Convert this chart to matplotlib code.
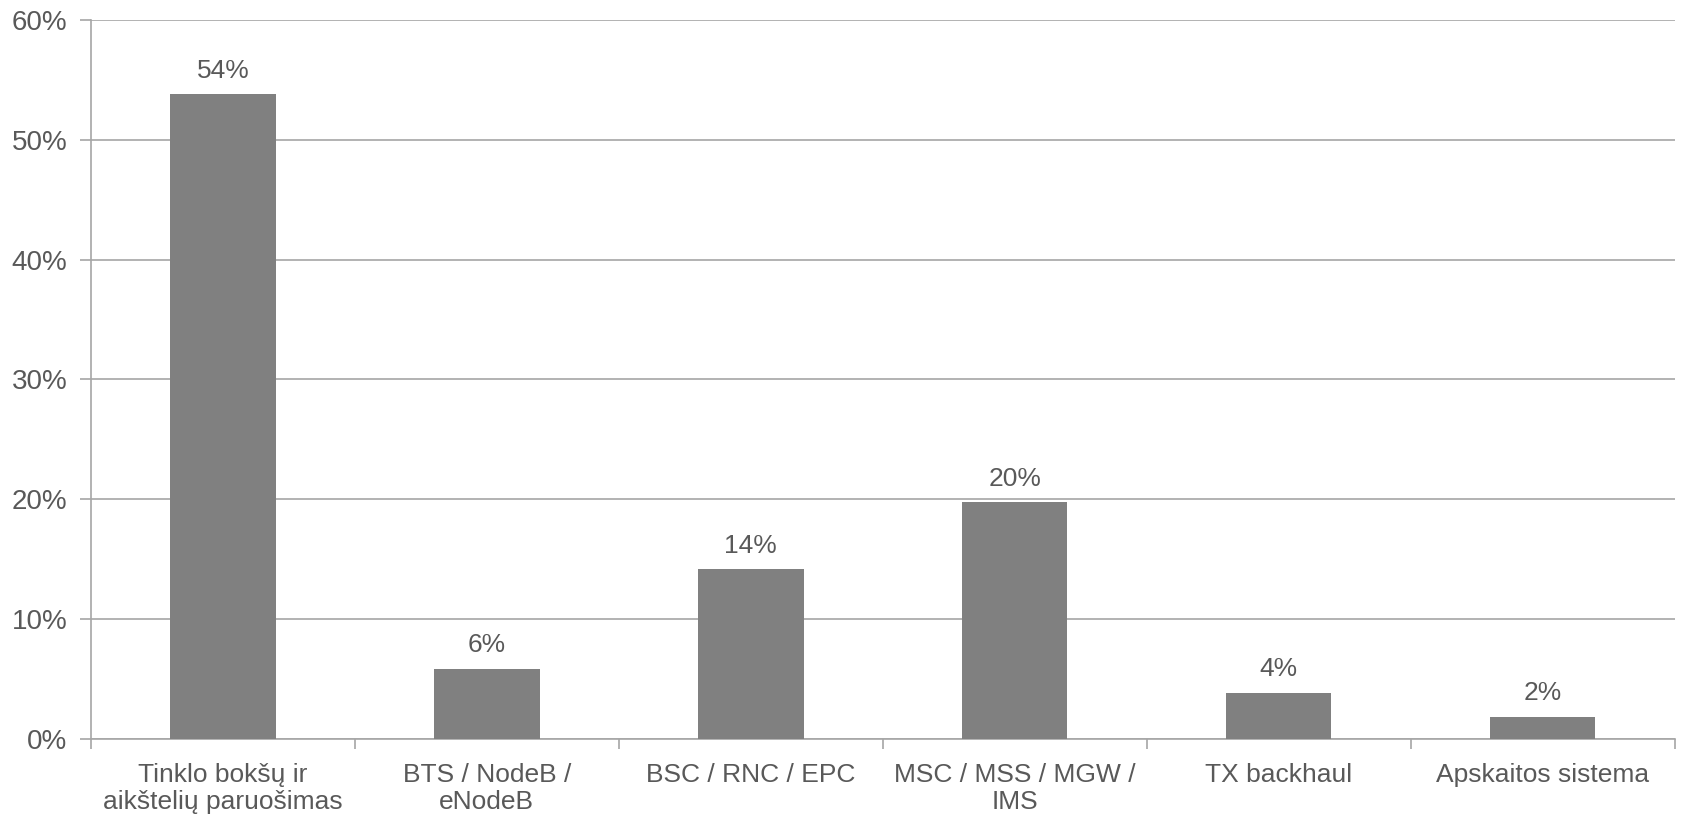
import matplotlib
matplotlib.use("Agg")
import matplotlib.pyplot as plt
from matplotlib.ticker import FuncFormatter, FixedLocator, NullFormatter

categories = ["Tinklo bokšų ir\naikštelių paruošimas", "BTS / NodeB /\neNodeB",
              "BSC / RNC / EPC", "MSC / MSS / MGW /\nIMS", "TX backhaul", "Apskaitos sistema"]
values = [53.8, 5.9, 14.2, 19.8, 3.9, 1.9]
labels = ["54%", "6%", "14%", "20%", "4%", "2%"]
yticks = [0, 10, 20, 30, 40, 50, 60]

plt.rcParams['font.family'] = ['Liberation Sans', 'DejaVu Sans']
TXT = "#595959"
GRID = "#a6a6a6"
FS = 19

fig = plt.figure(figsize=(16.83, 8.17), dpi=100)
ax = fig.add_axes([0.054, 0.095, 0.941, 0.881])

x = list(range(len(categories)))
bars = ax.bar(x, values, width=0.4, color="#808080", zorder=3)
for xi, v, lab in zip(x, values, labels):
    ax.annotate(lab, (xi, v), xytext=(0, 8), textcoords="offset points",
                ha="center", va="bottom", fontsize=FS, color=TXT)

ax.set_xlim(-0.5, len(categories) - 0.5)
ax.set_ylim(0, 60)
ax.set_yticks(yticks)
ax.yaxis.set_major_formatter(FuncFormatter(lambda v, p: f"{int(v)}%"))
ax.yaxis.grid(True, color=GRID, linewidth=1.2, zorder=0)
ax.set_axisbelow(True)

ax.set_xticks(x)
ax.set_xticklabels(categories, fontsize=FS, color=TXT, linespacing=1.15)
ax.tick_params(axis='x', which='major', length=0, pad=17)
ax.xaxis.set_minor_locator(FixedLocator([i - 0.5 for i in range(len(categories) + 1)]))
ax.xaxis.set_minor_formatter(NullFormatter())
ax.tick_params(axis='x', which='minor', length=7, color=GRID, width=1.2)
ax.tick_params(axis='y', length=8, color=GRID, width=1.2, labelsize=20, labelcolor=TXT, pad=9)

for s in ['top', 'right']:
    ax.spines[s].set_visible(False)
for s in ['left', 'bottom']:
    ax.spines[s].set_color(GRID)
    ax.spines[s].set_linewidth(1.2)

fig.savefig("out.png", dpi=100)
